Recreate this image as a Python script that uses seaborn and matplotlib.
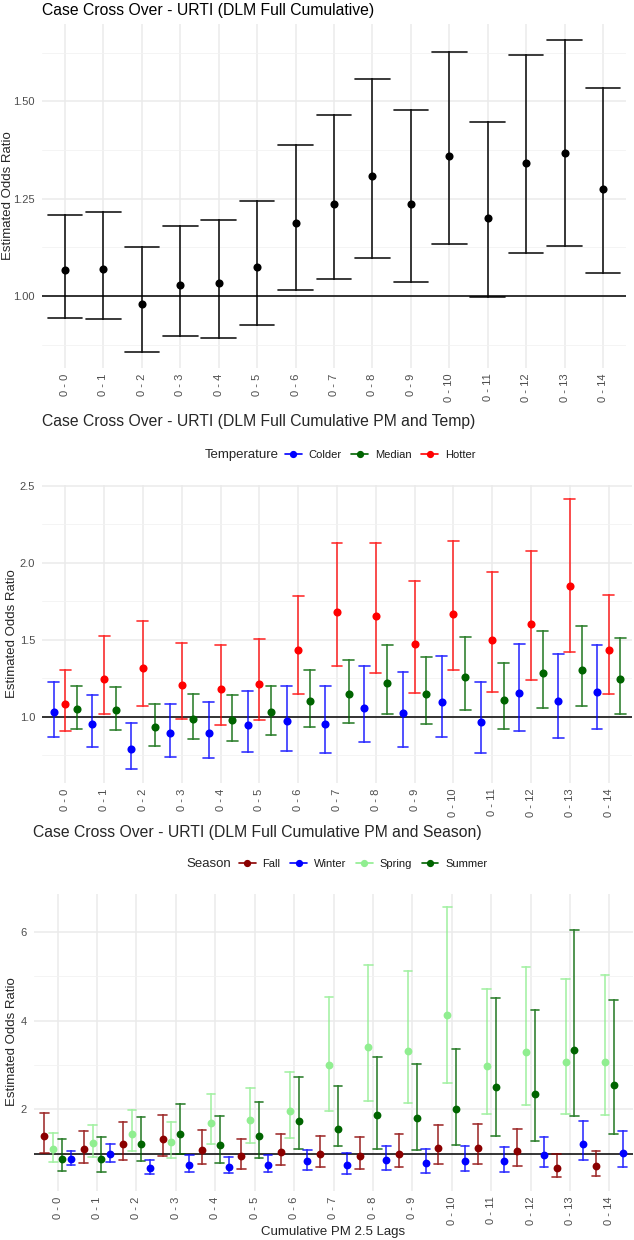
import numpy as np
import pandas as pd
import matplotlib
matplotlib.use("Agg")
import matplotlib.pyplot as plt
import seaborn as sns
from matplotlib.lines import Line2D
from matplotlib.ticker import FixedLocator

# ---------------- data ----------------
lags = ["0 - 0", "0 - 1", "0 - 2", "0 - 3", "0 - 4", "0 - 5", "0 - 6", "0 - 7",
        "0 - 8", "0 - 9", "0 - 10", "0 - 11", "0 - 12", "0 - 13", "0 - 14"]

overall_est = [1.068, 1.070, 0.981, 1.028, 1.033, 1.074, 1.188, 1.237, 1.308, 1.237, 1.359, 1.201, 1.342, 1.367, 1.275]
overall_lo = [0.945, 0.942, 0.856, 0.897, 0.893, 0.926, 1.016, 1.045, 1.099, 1.036, 1.135, 0.999, 1.112, 1.128, 1.060]
overall_hi = [1.207, 1.216, 1.125, 1.179, 1.195, 1.244, 1.387, 1.464, 1.557, 1.477, 1.627, 1.446, 1.619, 1.658, 1.533]

colder_est = [1.032, 0.953, 0.792, 0.896, 0.892, 0.946, 0.968, 0.953, 1.054, 1.020, 1.097, 0.964, 1.154, 1.102, 1.158]
colder_lo = [0.870, 0.801, 0.656, 0.740, 0.730, 0.769, 0.779, 0.760, 0.834, 0.805, 0.866, 0.762, 0.907, 0.862, 0.918]
colder_hi = [1.223, 1.139, 0.957, 1.084, 1.091, 1.165, 1.201, 1.197, 1.331, 1.292, 1.394, 1.221, 1.470, 1.407, 1.466]

median_est = [1.050, 1.041, 0.935, 0.985, 0.976, 1.028, 1.102, 1.145, 1.219, 1.147, 1.258, 1.110, 1.284, 1.303, 1.243]
median_lo = [0.920, 0.912, 0.808, 0.853, 0.838, 0.877, 0.935, 0.957, 1.016, 0.953, 1.041, 0.916, 1.056, 1.067, 1.019]
median_hi = [1.197, 1.193, 1.080, 1.143, 1.139, 1.201, 1.301, 1.370, 1.464, 1.386, 1.519, 1.346, 1.558, 1.591, 1.509]

hotter_est = [1.082, 1.245, 1.316, 1.204, 1.178, 1.214, 1.431, 1.680, 1.654, 1.472, 1.669, 1.498, 1.602, 1.851, 1.435]
hotter_lo = [0.903, 1.018, 1.071, 0.981, 0.948, 0.979, 1.147, 1.325, 1.284, 1.152, 1.303, 1.156, 1.234, 1.418, 1.147]
hotter_hi = [1.299, 1.522, 1.619, 1.477, 1.464, 1.505, 1.786, 2.128, 2.126, 1.881, 2.143, 1.938, 2.078, 2.416, 1.788]

fall_est = [1.399, 1.099, 1.212, 1.331, 1.077, 0.941, 1.031, 0.986, 0.948, 1.000, 1.122, 1.128, 1.061, 0.671, 0.723]
fall_lo = [1.023, 0.797, 0.858, 0.955, 0.761, 0.662, 0.730, 0.685, 0.655, 0.685, 0.768, 0.768, 0.723, 0.459, 0.489]
fall_hi = [1.910, 1.518, 1.707, 1.865, 1.527, 1.331, 1.451, 1.399, 1.369, 1.444, 1.640, 1.662, 1.550, 1.000, 1.054]

winter_est = [0.881, 0.986, 0.671, 0.752, 0.707, 0.745, 0.829, 0.737, 0.858, 0.791, 0.842, 0.829, 0.971, 1.219, 1.023]
winter_lo = [0.730, 0.806, 0.536, 0.588, 0.550, 0.572, 0.633, 0.543, 0.626, 0.565, 0.595, 0.588, 0.685, 0.858, 0.685]
winter_hi = [1.068, 1.219, 0.858, 0.971, 0.919, 0.978, 1.083, 1.016, 1.180, 1.099, 1.167, 1.144, 1.383, 1.730, 1.504]

spring_est = [1.099, 1.241, 1.451, 1.257, 1.692, 1.759, 1.955, 2.991, 3.396, 3.313, 4.131, 2.982, 3.297, 3.059, 3.059]
spring_lo = [0.820, 0.926, 1.061, 0.910, 1.219, 1.248, 1.347, 1.970, 2.194, 2.142, 2.593, 1.887, 2.089, 1.887, 1.865]
spring_hi = [1.459, 1.653, 1.985, 1.714, 2.351, 2.473, 2.840, 4.536, 5.257, 5.122, 6.553, 4.703, 5.212, 4.950, 5.040]

summer_est = [0.881, 0.887, 1.226, 1.451, 1.189, 1.405, 1.730, 1.563, 1.872, 1.811, 2.007, 2.509, 2.338, 3.342, 2.539]
summer_lo = [0.595, 0.588, 0.829, 0.993, 0.775, 0.910, 1.099, 1.173, 1.099, 1.083, 1.203, 1.399, 1.293, 1.857, 1.451]
summer_hi = [1.324, 1.369, 1.820, 2.119, 1.849, 2.171, 2.721, 2.532, 3.185, 3.020, 3.351, 4.500, 4.230, 6.054, 4.470]

temp_legend_order = ["Colder", "Median", "Hotter"]
temp_dodge_order = ["Colder", "Hotter", "Median"]
temp_colors = {"Colder": "#0000FF", "Median": "#006400", "Hotter": "#FF0000"}

season_legend_order = ["Fall", "Winter", "Spring", "Summer"]
season_dodge_order = ["Fall", "Spring", "Summer", "Winter"]
season_colors = {"Fall": "#8B0000", "Winter": "#0000FF", "Spring": "#90EE90", "Summer": "#006400"}

titles = ["Case Cross Over - URTI (DLM Full Cumulative)",
          "Case Cross Over - URTI (DLM Full Cumulative PM and Temp)",
          "Case Cross Over - URTI (DLM Full Cumulative PM and Season)"]


def long_df(groups):
    rows = []
    for name, (est, lo, hi) in groups.items():
        for lag, e, l, h in zip(lags, est, lo, hi):
            for v in (l, e, h):
                rows.append({"lag": lag, "group": name, "value": v})
    return pd.DataFrame(rows)


df_all = long_df({"All": (overall_est, overall_lo, overall_hi)})
df_temp = long_df({"Colder": (colder_est, colder_lo, colder_hi),
                   "Median": (median_est, median_lo, median_hi),
                   "Hotter": (hotter_est, hotter_lo, hotter_hi)})
df_season = long_df({"Fall": (fall_est, fall_lo, fall_hi),
                     "Winter": (winter_est, winter_lo, winter_hi),
                     "Spring": (spring_est, spring_lo, spring_hi),
                     "Summer": (summer_est, summer_lo, summer_hi)})

# ---------------- style ----------------
sns.set_theme(style="white")
plt.rcParams["font.family"] = ["Liberation Sans", "DejaVu Sans"]

W, H = 634, 1240
fig = plt.figure(figsize=(W / 100, H / 100), dpi=100)


def px_axes(left, right, top, bottom):
    return fig.add_axes([left / W, 1 - bottom / H, (right - left) / W, (bottom - top) / H])


def style_axes(ax, df, major, minor, fmt):
    vmin, vmax = df["value"].min(), df["value"].max()
    pad = 0.05 * (vmax - vmin)
    ax.set_ylim(vmin - pad, vmax + pad)
    ax.set_xlim(-0.6, len(lags) - 0.4)
    ax.yaxis.set_major_locator(FixedLocator(major))
    ax.yaxis.set_minor_locator(FixedLocator(minor))
    ax.set_yticklabels([fmt.format(v) for v in major])
    ax.grid(True, which="major", color="#EBEBEB", linewidth=1.1, zorder=0)
    ax.grid(True, which="minor", axis="y", color="#F2F2F2", linewidth=0.6, zorder=0)
    ax.set_axisbelow(True)
    for s in ax.spines.values():
        s.set_visible(False)
    ax.tick_params(axis="both", which="both", length=0, colors="#4D4D4D", labelsize=8)
    ax.tick_params(axis="x", pad=4, labelrotation=90)
    ax.tick_params(axis="y", pad=5)
    ax.set_xlabel("")
    ax.set_ylabel("")
    ax.axhline(1.0, color="black", linewidth=1.1, zorder=1.5)


# ---------- Panel 1 ----------
ax1 = px_axes(42, 626, 24, 368)
sns.pointplot(data=df_all, x="lag", y="value", order=lags, estimator="median",
              errorbar=("pi", 100), color="black", capsize=0.9, linestyle="none",
              markers="o", markersize=3.8, err_kws={"linewidth": 1.2, "alpha": 0.9}, ax=ax1)
style_axes(ax1, df_all, [1.00, 1.25, 1.50], [0.875, 1.125, 1.375, 1.625], "{:.2f}")
fig.text(42 / W, 1 - 10 / H, titles[0], fontsize=11.3, va="center", ha="left", color="black")
fig.text(8 / W, 1 - 196 / H, "Estimated Odds Ratio", rotation=90, fontsize=9.5, va="center", ha="center")

# ---------- Panel 2 ----------
ax2 = px_axes(42, 632, 485, 783)
sns.pointplot(data=df_temp, x="lag", y="value", hue="group", order=lags,
              hue_order=temp_dodge_order, palette=temp_colors, estimator="median",
              errorbar=("pi", 100), dodge=0.6, capsize=0.28, linestyle="none",
              markers="o", markersize=3.8, err_kws={"linewidth": 1.2, "alpha": 0.8},
              legend=False, ax=ax2)
style_axes(ax2, df_temp, [1.0, 1.5, 2.0, 2.5], [0.75, 1.25, 1.75, 2.25], "{:.1f}")
fig.text(42 / W, 1 - 421 / H, titles[1], fontsize=11.3, va="center", ha="left")
fig.text(12 / W, 1 - 634 / H, "Estimated Odds Ratio", rotation=90, fontsize=9.5, va="center", ha="center")
fig.text(205 / W, 1 - 455 / H, "Temperature", fontsize=9.5, va="center", ha="left")
h2 = [Line2D([0], [0], color=temp_colors[k], marker="o", markersize=4.2, linewidth=1.2)
      for k in temp_legend_order]
fig.legend(h2, temp_legend_order, loc="center left", bbox_to_anchor=(285 / W, 1 - 455 / H),
           ncol=3, frameon=False, fontsize=8, handlelength=1.5, handletextpad=0.6,
           columnspacing=0.9, borderpad=0, borderaxespad=0, labelcolor="#1A1A1A")

# ---------- Panel 3 ----------
ax3 = px_axes(34, 633, 894, 1191)
sns.pointplot(data=df_season, x="lag", y="value", hue="group", order=lags,
              hue_order=season_dodge_order, palette=season_colors, estimator="median",
              errorbar=("pi", 100), dodge=0.675, capsize=0.22, linestyle="none",
              markers="o", markersize=3.6, err_kws={"linewidth": 1.2, "alpha": 0.8},
              legend=False, ax=ax3)
style_axes(ax3, df_season, [2, 4, 6], [1, 3, 5], "{:d}")
fig.text(33 / W, 1 - 833 / H, titles[2], fontsize=11.3, va="center", ha="left")
fig.text(12 / W, 1 - 1042 / H, "Estimated Odds Ratio", rotation=90, fontsize=9.5, va="center", ha="center")
fig.text(186 / W, 1 - 864 / H, "Season", fontsize=9.5, va="center", ha="left")
h3 = [Line2D([0], [0], color=season_colors[k], marker="o", markersize=4.2, linewidth=1.2)
      for k in season_legend_order]
fig.legend(h3, season_legend_order, loc="center left", bbox_to_anchor=(239 / W, 1 - 864 / H),
           ncol=4, frameon=False, fontsize=8, handlelength=1.5, handletextpad=0.6,
           columnspacing=0.9, borderpad=0, borderaxespad=0, labelcolor="#1A1A1A")
fig.text(333 / W, 1 - 1232 / H, "Cumulative PM 2.5 Lags", fontsize=9.5, va="center", ha="center")

fig.savefig("out.png", dpi=100, facecolor="white")
